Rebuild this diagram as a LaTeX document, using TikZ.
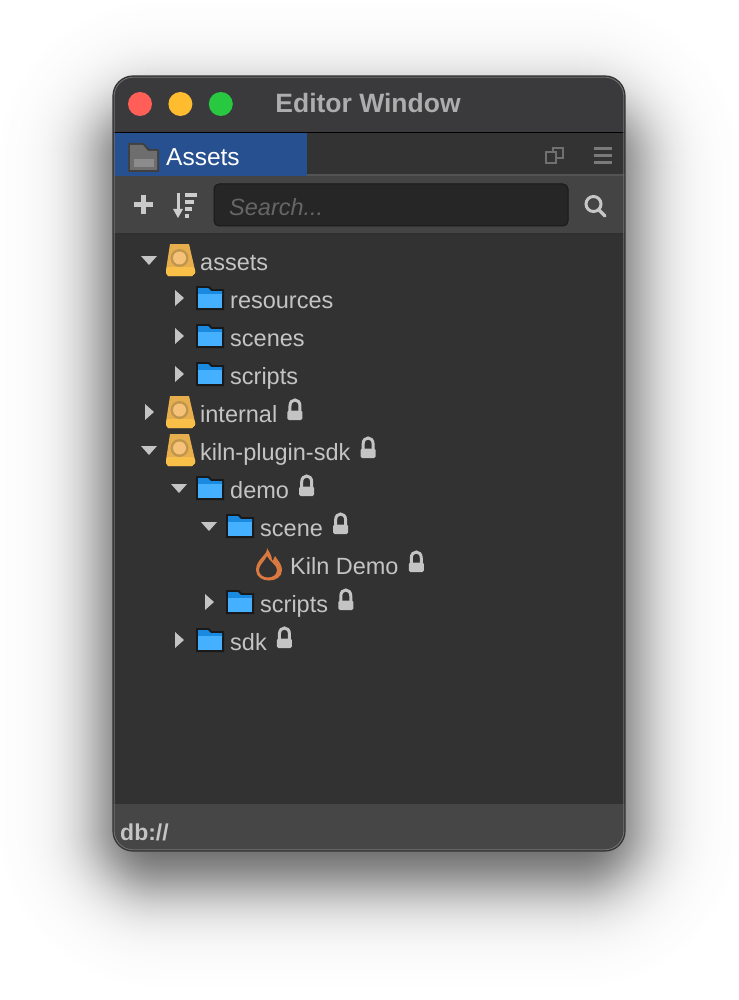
\documentclass[tikz,border=0pt]{standalone}
\usepackage{fontspec}
\setmainfont{Liberation Sans}
\definecolor{barbg}{RGB}{58, 58, 60}
\definecolor{tabbg}{RGB}{51, 51, 52}
\definecolor{toolbg}{RGB}{68, 68, 68}
\definecolor{treebg}{RGB}{50, 50, 50}
\definecolor{statusbg}{RGB}{70, 70, 70}
\definecolor{tabblue}{RGB}{38, 80, 143}
\definecolor{labelgray}{RGB}{196, 196, 196}
\definecolor{foldertop}{RGB}{26, 138, 224}
\definecolor{folderbody}{RGB}{69, 176, 255}
\definecolor{assetgold}{RGB}{248, 192, 72}
\definecolor{assetmid}{RGB}{230, 174, 76}
\definecolor{assetdark}{RGB}{192, 150, 78}
\definecolor{assetcore}{RGB}{246, 194, 122}
\definecolor{flameorange}{RGB}{217, 120, 63}
\usetikzlibrary{positioning}
\tikzset{
  rowlabel/.style={anchor=west, inner sep=0pt, text=labelgray, font=\fontsize{23.5}{23.5}\selectfont, text height=16pt, text depth=0pt},
  trafficlight/.style={circle, minimum size=24pt, inner sep=0pt},
  pics/folderopen/.style={code={
    \fill[black!90] (-14,-12) -- (-1,-12) -- (2,-9) -- (14,-9) -- (14,12) -- (-14,12) -- cycle;
    \fill[foldertop] (-12,-10) -- (-2,-10) -- (1,-7) -- (12,-7) -- (12,-3) -- (-12,-3) -- cycle;
    \fill[folderbody] (-12,-4) rectangle (12,10);
  }},
  pics/assetdb/.style={code={
    \fill[assetmid] (-10,-16) -- (9,-16) -- (15,10) -- (15,13) -- (12,16) -- (-12,16) -- (-14,13) -- (-14,10) -- cycle;
    \fill[assetgold] (-12.5,7) -- (13.5,7) -- (15,10) -- (15,13) -- (12,16) -- (-12,16) -- (-14,13) -- (-14,10) -- cycle;
    \fill[assetdark] (-0.5,-2) circle [radius=9];
    \fill[assetcore] (-0.5,-2) circle [radius=6.5];
  }},
  pics/lockicon/.style={code={
    \draw[labelgray, line width=3pt] (-5,2) -- (-5,-4) .. controls (-5,-12) and (5,-12) .. (5,-4) -- (5,2);
    \fill[labelgray, rounded corners=1.5pt] (-7.5,0.5) rectangle (7.5,10);
  }},
  pics/flameicon/.style={code={
    \fill[flameorange, even odd rule] (-3,-17) .. controls (-2,-10) and (-14,-6) .. (-14,5)
      .. controls (-14,19) and (12,19) .. (12,5) .. controls (12,-1) and (8,-4) .. (5,-9)
      .. controls (4,-6) and (3,-5) .. (2,-4) .. controls (2,-10) and (-1,-13) .. (-3,-17) -- cycle
      (-3,-9) .. controls (-6,-3) and (-11,0) .. (-11,5) .. controls (-11,15) and (7,15) .. (7,5)
      .. controls (7,0) and (0,-3) .. (-3,-9) -- cycle;
  }}
}
\begin{document}
\begin{tikzpicture}[x=1pt, y=-1pt]
  \useasboundingbox (0,0) rectangle (738,1000);
  \fill[white] (0,0) rectangle (738,1000);
  % soft shadow under the window
  \foreach \s in {100,99,...,-70} {
    \pgfmathsetmacro{\shadepct}{64/(1+exp(1.702*\s/34))}
    \pgfmathsetmacro{\shaderad}{max(20,60+\s)}
    \fill[black!\shadepct, rounded corners=\shaderad pt] (100-\s,103-\s) rectangle (638+\s,886+\s);
  }

  % window body
  \begin{scope}
    \clip[rounded corners=20pt] (113,76) rectangle (625,851);
    \fill[treebg] (113,76) rectangle (625,851);
    \fill[barbg] (113,76) rectangle (625,132);
    \fill[tabbg] (113,133) rectangle (625,176);
    \fill[tabblue] (114,133) rectangle (307,176);
    \fill[toolbg] (113,176) rectangle (625,234);
    \fill[statusbg] (113,804) rectangle (625,851);
    \draw[black, line width=1pt] (113,132.5) -- (625,132.5);
    \draw[white!33!black, line width=2pt] (307,175.5) -- (625,175.5);
    \draw[black!30!toolbg, line width=2pt] (113,234) -- (625,234);
  \end{scope}
  \draw[black!80, line width=1.2pt, rounded corners=20pt] (113,76) rectangle (625,851);
  \draw[white!45!black, line width=0.8pt, rounded corners=19pt] (114.2,77.2) rectangle (623.8,849.8);

  % title bar
  \node[trafficlight, fill={rgb,255:red,255;green,95;blue,87}] (closebtn) at (140,104) {};
  \node[trafficlight, fill={rgb,255:red,254;green,188;blue,46}, right=16pt of closebtn] (minbtn) {};
  \node[trafficlight, fill={rgb,255:red,40;green,200;blue,64}, right=16pt of minbtn] (maxbtn) {};
  \node[text=white!68!black, font=\fontsize{26.5}{26.5}\bfseries\selectfont, inner sep=0pt] (title) at (368,103) {Editor Window};

  % tab strip
  \fill[black!75, rounded corners=1pt] (128,143) -- (144,143) -- (149,149) -- (159,149) -- (159,172) -- (128,172) -- cycle;
  \fill[white!43!black] (130,145) -- (143,145) -- (148,151) -- (157,151) -- (157,170) -- (130,170) -- cycle;
  \fill[white!55!black] (134,159) rectangle (154,167);
  \node[rowlabel, text=white, font=\fontsize{24.5}{24.5}\selectfont] (tablabel) at (166,158) {Assets};
  \draw[white!44!black, line width=2.5pt] (553,152) -- (553,148) -- (563,148) -- (563,158) -- (557,158);
  \draw[white!44!black, line width=2.5pt] (546,152) rectangle (556,163);
  \draw[white!48!black, line width=3pt] (594,149) -- (612,149) (594,156) -- (612,156) (594,162.5) -- (612,162.5);

  % tool bar
  \draw[labelgray!90, line width=5pt] (133.5,205) -- (152.5,205) (143,195.5) -- (143,214.5);
  \draw[labelgray!85, line width=3pt] (178,193) -- (178,213);
  \fill[labelgray!85] (173,209) -- (183,209) -- (178,218) -- cycle;
  \draw[labelgray!85, line width=3.5pt] (185,195) -- (197,195) (185,202) -- (194,202) (185,209) -- (192,209) (185,216) -- (189,216);
  \node[draw=black!90, fill=black!85, rounded corners=5pt, minimum width=354pt, minimum height=42pt, inner sep=0pt, line width=1pt] (searchbox) at (391,205) {};
  \node[anchor=west, inner sep=0pt, text=white!40!black, font=\fontsize{23.5}{23.5}\itshape\selectfont, text height=16pt, text depth=0pt] (searchtext) at (229,207) {Search...};
  \draw[labelgray!95, line width=3pt] (593.5,204) circle [radius=7.5];
  \draw[labelgray!95, line width=3.5pt, line cap=round] (599,210) -- (605,216);

  % tree rows
  \node[rowlabel] (assets) at (200,262) {assets};
  \node[rowlabel] (resources) at (230,300) {resources};
  \node[rowlabel] (scenes) at (230,338) {scenes};
  \node[rowlabel] (scriptsA) at (230,376) {scripts};
  \node[rowlabel] (internal) at (200,414) {internal};
  \node[rowlabel] (kilnsdk) at (200,452) {kiln-plugin-sdk};
  \node[rowlabel] (demo) at (230,490) {demo};
  \node[rowlabel] (scene) at (260,528) {scene};
  \node[rowlabel] (kilndemo) at (290,566) {Kiln Demo};
  \node[rowlabel] (scriptsB) at (260,604) {scripts};
  \node[rowlabel] (sdk) at (230,642) {sdk};

  \pic at (180,260) {assetdb};
  \pic at (180,412) {assetdb};
  \pic at (180,450) {assetdb};
  \foreach \px/\py in {210/298, 210/336, 210/374, 210/488, 240/526, 240/602, 210/640} {
    \pic at (\px,\py) {folderopen};
  }
  \pic at (270,565) {flameicon};

  % open and closed arrows
  \foreach \ax/\ay in {149/260, 149/450, 179/488, 209/526} {
    \fill[labelgray] (\ax-8,\ay-4) -- (\ax+8,\ay-4) -- (\ax,\ay+5) -- cycle;
  }
  \foreach \ax/\ay in {179/298, 179/336, 179/374, 149/412, 209/602, 179/640} {
    \fill[labelgray] (\ax-4,\ay-8) -- (\ax+5,\ay) -- (\ax-4,\ay+8) -- cycle;
  }

  % locks
  \foreach \lbl in {internal, kilnsdk, demo, scene, kilndemo, scriptsB, sdk} {
    \pic at ([xshift=17.5pt,yshift=4pt]\lbl.east) {lockicon};
  }

  % status bar
  \node[anchor=west, inner sep=0pt, text=labelgray, font=\fontsize{23}{23}\bfseries\selectfont] (dbpath) at (120,832) {db://};
\end{tikzpicture}
\end{document}
